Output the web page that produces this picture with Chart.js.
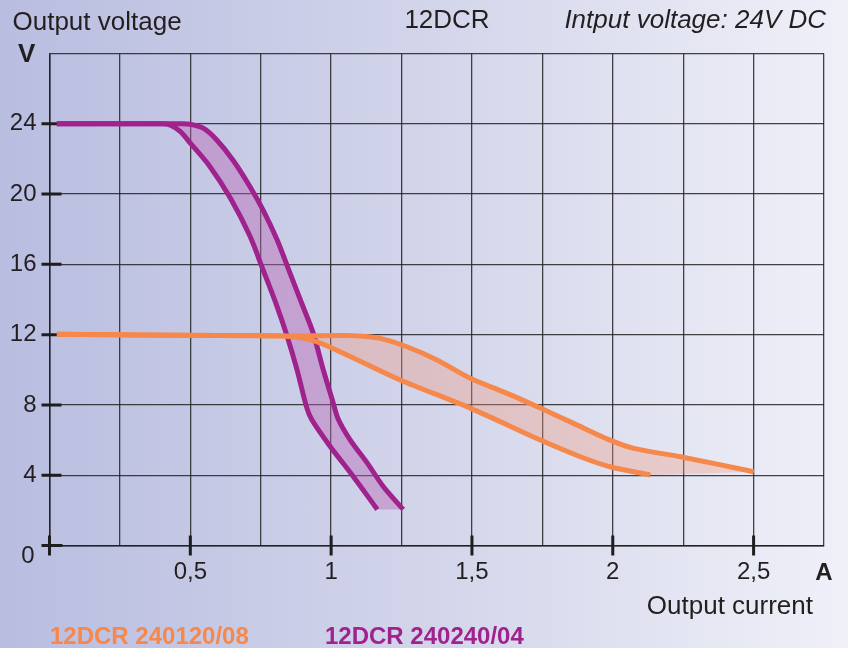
<!DOCTYPE html>
<html>
<head>
<meta charset="utf-8">
<script src="https://cdn.jsdelivr.net/npm/chart.js@4/dist/chart.umd.min.js"></script>
<style>
  html, body { margin: 0; padding: 0; }
  body { width: 848px; height: 648px; overflow: hidden;
         background: linear-gradient(to right, #b9bde0 0%, #d2d5ea 50%, #eff0f8 100%); }
  canvas { display: block; }
</style>
</head>
<body>
<canvas id="c" width="848" height="648"></canvas>
<script>
// ---- data ----
const xTickValues = [0.5, 1, 1.5, 2, 2.5];
const xTickLabels = ['0,5', '1', '1,5', '2', '2,5'];
const yTickValues = [4, 8, 12, 16, 20, 24];
const yTickLabels = ['4', '8', '12', '16', '20', '24'];

// 12DCR 240240/04 (purple band)
const purpleOuterX = [0.026, 0.47, 0.50, 0.546, 0.594, 0.653, 0.712, 0.758, 0.808, 0.854, 0.90, 0.936, 0.972, 1.004, 1.025, 1.068, 1.128, 1.185, 1.256];
const purpleOuterY = [24.0, 24.0, 23.97, 23.75, 23.08, 21.9, 20.42, 19.1, 17.4, 15.5, 13.6, 12.1, 10.0, 8.3, 7.2, 6.0, 4.7, 3.36, 2.05];
const purpleInnerX = [0.026, 0.40, 0.43, 0.465, 0.50, 0.57, 0.641, 0.712, 0.758, 0.808, 0.844, 0.879, 0.912, 0.931, 0.996, 1.068, 1.164];
const purpleInnerY = [24.0, 24.0, 23.92, 23.55, 22.9, 21.56, 19.8, 17.6, 15.7, 13.6, 11.9, 10.0, 7.92, 7.17, 5.65, 4.15, 2.05];

// 12DCR 240120/08 (orange band)
const orangeUpperX = [0.026, 0.6, 0.85, 1.057, 1.174, 1.269, 1.376, 1.494, 1.625, 1.743, 1.861, 1.99, 2.075, 2.24, 2.501];
const orangeUpperY = [12.02, 11.95, 11.92, 11.95, 11.79, 11.31, 10.56, 9.52, 8.66, 7.82, 6.95, 6.0, 5.53, 5.05, 4.2];
const orangeLowerX = [0.026, 0.6, 0.82, 0.937, 1.056, 1.245, 1.494, 1.743, 1.885, 1.99, 2.133];
const orangeLowerY = [12.02, 11.95, 11.93, 11.66, 10.84, 9.42, 7.82, 6.0, 5.05, 4.48, 4.01];

const seriesNames = ['12DCR 240120/08', '12DCR 240240/04'];

// ---- styles ----
const FONT = "'Liberation Sans', Arial, Helvetica, sans-serif";
const TXT = '#231f20';
const PURPLE = '#a0228c';
const ORANGE = '#f5884a';

const pts = (xs, ys) => xs.map((x, i) => ({x: x, y: ys[i]}));
// closed band: first curve, then second curve reversed; corner points doubled so the closing edge stays straight
const shape = (a, b) => {
  const r = b.slice().reverse();
  return a.concat([a[a.length - 1]], [r[0]], r);
};

const purpleOuter = pts(purpleOuterX, purpleOuterY);
const purpleInner = pts(purpleInnerX, purpleInnerY);
const orangeUpper = pts(orangeUpperX, orangeUpperY);
const orangeLower = pts(orangeLowerX, orangeLowerY);

const lineDs = (label, data, color, order) => ({
  label, data, borderColor: color, borderWidth: 5, pointRadius: 0,
  fill: false, tension: 0.3, order, borderCapStyle: 'butt', borderJoinStyle: 'round'
});
const fillDs = (label, data, color, order) => ({
  label, data, borderWidth: 0, borderColor: 'rgba(0,0,0,0)', backgroundColor: color,
  pointRadius: 0, fill: 'shape', tension: 0.3, order
});

const decor = {
  id: 'decor',
  beforeDatasetsDraw(chart) {
    const ctx = chart.ctx, xs = chart.scales.x, ys = chart.scales.y;
    const x0 = xs.getPixelForValue(0), y0 = ys.getPixelForValue(0);
    ctx.save();
    ctx.strokeStyle = '#1e1e1e';
    ctx.lineWidth = 3;
    ctx.beginPath();
    yTickValues.forEach(v => {
      const y = ys.getPixelForValue(v);
      ctx.moveTo(x0 - 8, y); ctx.lineTo(x0 + 12, y);
    });
    xTickValues.forEach(v => {
      const x = xs.getPixelForValue(v);
      ctx.moveTo(x, y0 - 10); ctx.lineTo(x, y0 + 10);
    });
    ctx.moveTo(x0 - 8, y0); ctx.lineTo(x0 + 13, y0);
    ctx.moveTo(x0, y0 - 10); ctx.lineTo(x0, y0 + 10);
    ctx.stroke();
    ctx.restore();
  },
  afterDraw(chart) {
    const ctx = chart.ctx;
    ctx.save();
    ctx.fillStyle = TXT;
    ctx.textBaseline = 'alphabetic';
    ctx.font = '26px ' + FONT;
    ctx.textAlign = 'left';  ctx.fillText('Output voltage', 12.5, 29.5);
    ctx.textAlign = 'center'; ctx.fillText('12DCR', 447, 27.5);
    ctx.font = 'italic 26px ' + FONT;
    ctx.textAlign = 'right'; ctx.fillText('Intput voltage: 24V DC', 826, 27.5);
    ctx.font = 'bold 26px ' + FONT;
    ctx.textAlign = 'left'; ctx.fillText('V', 18, 62);
    ctx.font = 'bold 24px ' + FONT;
    ctx.textAlign = 'center'; ctx.fillText('A', 824, 580);
    ctx.font = '26px ' + FONT;
    ctx.textAlign = 'right'; ctx.fillText('Output current', 813, 614);
    ctx.font = '24px ' + FONT;
    ctx.textAlign = 'center'; ctx.fillText('0', 28, 563);
    ctx.font = 'bold 24px ' + FONT;
    ctx.textAlign = 'left';
    ctx.fillStyle = ORANGE; ctx.fillText(seriesNames[0], 50, 643.5);
    ctx.fillStyle = PURPLE; ctx.fillText(seriesNames[1], 325, 643.5);
    ctx.restore();
  }
};

new Chart(document.getElementById('c'), {
  type: 'line',
  data: {
    datasets: [
      lineDs(seriesNames[0] + ' max', orangeUpper, ORANGE, 0),
      lineDs(seriesNames[0] + ' min', orangeLower, ORANGE, 1),
      lineDs(seriesNames[1] + ' max', purpleOuter, PURPLE, 2),
      lineDs(seriesNames[1] + ' min', purpleInner, PURPLE, 3),
      fillDs(seriesNames[0] + ' band', shape(orangeUpper, orangeLower), 'rgba(241,153,125,0.35)', 4),
      fillDs(seriesNames[1] + ' band', shape(purpleOuter, purpleInner), 'rgba(187,100,178,0.42)', 5)
    ]
  },
  options: {
    responsive: false,
    animation: false,
    devicePixelRatio: 1,
    layout: { padding: { top: 53.5, right: 24, left: 0, bottom: 0 } },
    plugins: { legend: { display: false }, tooltip: { enabled: false }, title: { display: false } },
    scales: {
      x: {
        type: 'linear', min: 0, max: 2.75,
        ticks: {
          stepSize: 0.25, autoSkip: false, maxRotation: 0, padding: 12,
          color: TXT, font: { family: FONT, size: 24 },
          callback: (v) => { const i = xTickValues.findIndex(t => Math.abs(t - v) < 1e-6); return i >= 0 ? xTickLabels[i] : ''; }
        },
        grid: { color: 'rgba(35,35,35,0.85)', lineWidth: 1.3, drawTicks: false },
        border: { display: true, color: '#222', width: 1.5 },
        afterFit: (s) => { s.height = 102.5; }
      },
      y: {
        type: 'linear', min: 0, max: 28,
        ticks: {
          stepSize: 4, autoSkip: false, padding: 13,
          color: TXT, font: { family: FONT, size: 24 },
          callback: (v) => { const i = yTickValues.findIndex(t => Math.abs(t - v) < 1e-6); return i >= 0 ? yTickLabels[i] : ''; }
        },
        grid: { color: 'rgba(35,35,35,0.85)', lineWidth: 1.3, drawTicks: false },
        border: { display: true, color: '#222', width: 1.5 },
        afterFit: (s) => { s.width = 49.5; }
      }
    }
  },
  plugins: [decor]
});
</script>
</body>
</html>
